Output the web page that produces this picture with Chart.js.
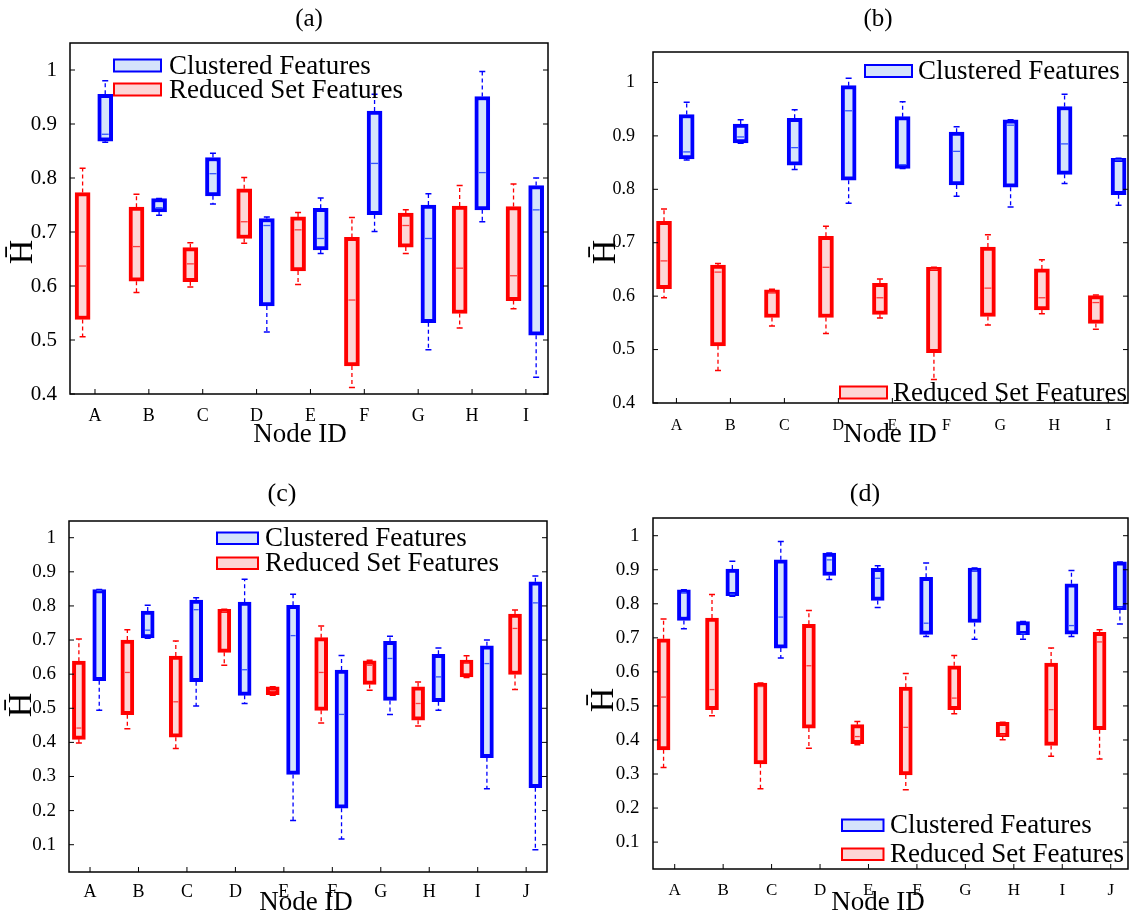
<!DOCTYPE html>
<html>
<head>
<meta charset="utf-8">
<title>Node ID box plots</title>
<script src="https://cdn.jsdelivr.net/npm/chart.js@4.4.1/dist/chart.umd.min.js"></script>
<style>
  html, body { margin: 0; padding: 0; background: #fff; }
  body { position: relative; width: 1129px; height: 915px; overflow: hidden; }
  canvas { position: absolute; }
</style>
</head>
<body>
<canvas id="panelA" width="565" height="457" style="left:0;top:0"></canvas>
<canvas id="panelB" width="564" height="457" style="left:565px;top:0"></canvas>
<canvas id="panelC" width="565" height="458" style="left:0;top:457px"></canvas>
<canvas id="panelD" width="564" height="458" style="left:565px;top:457px"></canvas>
<script>
const seriesNames = ['Clustered Features', 'Reduced Set Features'];
const panelTitles = ['(a)', '(b)', '(c)', '(d)'];
const xTitle = 'Node ID';
const yTitle = 'H\u0304';

const nodes9 = ['A', 'B', 'C', 'D', 'E', 'F', 'G', 'H', 'I'];
const nodes10 = ['A', 'B', 'C', 'D', 'E', 'F', 'G', 'H', 'I', 'J'];
const ticksTop = [0.4, 0.5, 0.6, 0.7, 0.8, 0.9, 1];
const ticksBottom = [0.1, 0.2, 0.3, 0.4, 0.5, 0.6, 0.7, 0.8, 0.9, 1];

// rows: [lower whisker, q1, median, q3, upper whisker]
const clusteredA = [
  [0.866, 0.868, 0.881, 0.955, 0.980], [0.731, 0.737, 0.745, 0.762, 0.762],
  [0.752, 0.767, 0.808, 0.838, 0.846], [0.515, 0.563, 0.712, 0.725, 0.728],
  [0.660, 0.667, 0.688, 0.744, 0.763], [0.701, 0.732, 0.827, 0.924, 0.955],
  [0.482, 0.532, 0.688, 0.750, 0.771], [0.719, 0.741, 0.810, 0.951, 0.997],
  [0.431, 0.509, 0.741, 0.786, 0.800]
];
const reducedA = [
  [0.506, 0.538, 0.637, 0.773, 0.818], [0.588, 0.609, 0.673, 0.746, 0.770],
  [0.598, 0.608, 0.641, 0.671, 0.680], [0.679, 0.688, 0.719, 0.780, 0.801],
  [0.603, 0.628, 0.704, 0.728, 0.736], [0.412, 0.452, 0.574, 0.690, 0.727],
  [0.660, 0.672, 0.712, 0.735, 0.741], [0.522, 0.549, 0.633, 0.748, 0.786],
  [0.558, 0.573, 0.619, 0.747, 0.789]
];
const clusteredB = [
  [0.855, 0.857, 0.870, 0.940, 0.963], [0.886, 0.887, 0.898, 0.922, 0.930],
  [0.837, 0.845, 0.878, 0.933, 0.949], [0.774, 0.817, 0.947, 0.994, 1.008],
  [0.839, 0.839, 0.846, 0.936, 0.964], [0.787, 0.808, 0.871, 0.907, 0.917],
  [0.767, 0.804, 0.920, 0.930, 0.930], [0.811, 0.828, 0.885, 0.955, 0.978],
  [0.770, 0.790, 0.855, 0.858, 0.858]
];
const reducedB = [
  [0.597, 0.614, 0.666, 0.740, 0.763], [0.461, 0.507, 0.645, 0.658, 0.661],
  [0.544, 0.560, 0.607, 0.612, 0.613], [0.530, 0.560, 0.654, 0.712, 0.731],
  [0.559, 0.566, 0.597, 0.624, 0.632], [0.444, 0.494, 0.650, 0.654, 0.654],
  [0.546, 0.562, 0.615, 0.692, 0.715], [0.567, 0.574, 0.597, 0.651, 0.668],
  [0.538, 0.549, 0.588, 0.601, 0.602]
];
const clusteredC = [
  [0.494, 0.581, 0.845, 0.848, 0.848], [0.705, 0.706, 0.729, 0.785, 0.802],
  [0.507, 0.578, 0.789, 0.817, 0.824], [0.514, 0.538, 0.613, 0.811, 0.878],
  [0.171, 0.306, 0.713, 0.802, 0.834], [0.117, 0.207, 0.482, 0.612, 0.655],
  [0.482, 0.523, 0.646, 0.696, 0.711], [0.494, 0.519, 0.592, 0.658, 0.677],
  [0.264, 0.355, 0.631, 0.683, 0.700], [0.085, 0.267, 0.809, 0.871, 0.888]
];
const reducedC = [
  [0.398, 0.409, 0.442, 0.638, 0.703], [0.440, 0.481, 0.605, 0.700, 0.730],
  [0.382, 0.415, 0.519, 0.653, 0.697], [0.626, 0.664, 0.783, 0.790, 0.790],
  [0.538, 0.540, 0.551, 0.563, 0.563], [0.457, 0.494, 0.605, 0.707, 0.741],
  [0.553, 0.570, 0.626, 0.639, 0.641], [0.448, 0.465, 0.514, 0.563, 0.577],
  [0.590, 0.592, 0.632, 0.641, 0.654], [0.555, 0.599, 0.734, 0.776, 0.788]
];
const clusteredD = [
  [0.727, 0.751, 0.833, 0.841, 0.841], [0.822, 0.824, 0.828, 0.902, 0.925],
  [0.641, 0.670, 0.761, 0.929, 0.983], [0.871, 0.883, 0.929, 0.949, 0.949],
  [0.789, 0.810, 0.875, 0.904, 0.912], [0.704, 0.710, 0.743, 0.878, 0.920],
  [0.696, 0.745, 0.898, 0.905, 0.905], [0.696, 0.709, 0.712, 0.748, 0.748],
  [0.704, 0.711, 0.736, 0.859, 0.898], [0.741, 0.783, 0.790, 0.923, 0.923]
];
const reducedD = [
  [0.319, 0.371, 0.526, 0.697, 0.755], [0.471, 0.489, 0.548, 0.758, 0.827],
  [0.257, 0.330, 0.557, 0.567, 0.567], [0.376, 0.435, 0.618, 0.740, 0.780],
  [0.386, 0.389, 0.410, 0.445, 0.454], [0.254, 0.297, 0.437, 0.555, 0.595],
  [0.477, 0.489, 0.523, 0.618, 0.648], [0.401, 0.410, 0.415, 0.452, 0.452],
  [0.352, 0.384, 0.489, 0.626, 0.670], [0.344, 0.430, 0.688, 0.716, 0.724]
];

const FONT = 'Liberation Serif';
const COLORS = [
  { line: '#0000ff', fill: '#d5e3fb', median: '#3355ff' },
  { line: '#ff0000', fill: '#fdd6d6', median: '#ff3b3b' }
];
// box centre offset from the node tick, in node units
const OFFSETS = [0.19, -0.23];

// whiskers, caps and medians on top of the floating bars
const boxPlot = {
  id: 'boxPlot',
  afterDatasetsDraw(chart) {
    const { ctx } = chart;
    const y = chart.scales.y;
    chart.data.datasets.forEach((ds, di) => {
      const meta = chart.getDatasetMeta(di);
      const col = COLORS[di];
      ds.stats.forEach((r, i) => {
        const bar = meta.data[i];
        const cx = bar.x;
        const inner = bar.width / 2 - ds.borderWidth;
        const [lo, q1, med, q3, hi] = r.map(v => y.getPixelForValue(v));
        ctx.save();
        ctx.strokeStyle = col.line;
        ctx.lineWidth = 1.3;
        ctx.setLineDash([4, 3]);
        ctx.beginPath();
        if (hi < q3 - 1) { ctx.moveTo(cx, q3); ctx.lineTo(cx, hi); }
        if (lo > q1 + 1) { ctx.moveTo(cx, q1); ctx.lineTo(cx, lo); }
        ctx.stroke();
        ctx.setLineDash([]);
        ctx.lineWidth = 1.5;
        ctx.beginPath();
        ctx.moveTo(cx - 3, hi); ctx.lineTo(cx + 3, hi);
        ctx.moveTo(cx - 3, lo); ctx.lineTo(cx + 3, lo);
        ctx.stroke();
        ctx.strokeStyle = col.median;
        ctx.lineWidth = 1.3;
        ctx.beginPath();
        ctx.moveTo(cx - inner, med); ctx.lineTo(cx + inner, med);
        ctx.stroke();
        ctx.restore();
      });
    });
  }
};

// frame, inward ticks, titles and the in-plot legend
function decorations(cfg) {
  return {
    id: 'decorations',
    afterDraw(chart) {
      const { ctx, chartArea: a, scales: { x, y } } = chart;
      ctx.save();
      ctx.strokeStyle = '#000';
      ctx.lineWidth = 1.5;
      ctx.strokeRect(a.left, a.top, a.right - a.left, a.bottom - a.top);
      ctx.lineWidth = 1;
      ctx.beginPath();
      cfg.yTicks.forEach(v => {
        const py = y.getPixelForValue(v);
        ctx.moveTo(a.left, py); ctx.lineTo(a.left + 5, py);
        ctx.moveTo(a.right, py); ctx.lineTo(a.right - 5, py);
      });
      cfg.nodes.forEach((n, i) => {
        const px = x.getPixelForValue(i + 1);
        ctx.moveTo(px, a.bottom); ctx.lineTo(px, a.bottom - 5);
      });
      ctx.stroke();

      ctx.fillStyle = '#000';
      ctx.textAlign = 'center';
      ctx.textBaseline = 'alphabetic';
      ctx.font = cfg.titleSize + 'px "' + FONT + '"';
      ctx.fillText(cfg.title, cfg.titlePos[0], cfg.titlePos[1]);
      ctx.font = '27px "' + FONT + '"';
      ctx.fillText(xTitle, cfg.xLabelPos[0], cfg.xLabelPos[1]);

      ctx.save();
      ctx.translate(cfg.yLabelPos[0], cfg.yLabelPos[1]);
      ctx.rotate(-Math.PI / 2);
      ctx.textBaseline = 'middle';
      ctx.font = '34px "' + FONT + '"';
      ctx.fillText(yTitle, 0, 0);
      ctx.restore();

      ctx.textAlign = 'left';
      cfg.legend.forEach(item => {
        const col = COLORS[item.s];
        ctx.fillStyle = col.fill;
        ctx.fillRect(item.x, item.y, cfg.patch[0], cfg.patch[1]);
        ctx.strokeStyle = col.line;
        ctx.lineWidth = 2;
        ctx.strokeRect(item.x, item.y, cfg.patch[0], cfg.patch[1]);
        ctx.fillStyle = '#000';
        ctx.font = '27px "' + FONT + '"';
        ctx.fillText(seriesNames[item.s], item.x + cfg.textGap, item.y + cfg.patch[1] / 2 + 8);
      });
      ctx.restore();
    }
  };
}

function makePanel(id, cfg) {
  const canvas = document.getElementById(id);
  const H = canvas.height;
  const W = canvas.width;
  const series = [cfg.clustered, cfg.reduced];
  const datasets = series.map((rows, s) => ({
    label: seriesNames[s],
    data: rows.map((r, i) => ({ x: i + 1 + OFFSETS[s], y: [r[1], r[3]] })),
    stats: rows,
    backgroundColor: COLORS[s].fill,
    borderColor: COLORS[s].line,
    borderWidth: cfg.boxLine,
    borderSkipped: false,
    grouped: false,
    barThickness: cfg.boxWidth,
    maxBarThickness: cfg.boxWidth
  }));

  new Chart(canvas, {
    type: 'bar',
    data: { datasets },
    options: {
      responsive: false,
      animation: false,
      events: [],
      layout: { padding: { left: 0, top: cfg.area.top, right: W - cfg.area.right, bottom: 0 } },
      plugins: {
        legend: { display: false },
        tooltip: { enabled: false },
        title: { display: false }
      },
      scales: {
        x: {
          type: 'linear',
          min: cfg.xRange[0],
          max: cfg.xRange[1],
          offset: false,
          grid: { display: false },
          border: { display: false },
          afterBuildTicks: sc => { sc.ticks = cfg.nodes.map((n, i) => ({ value: i + 1 })); },
          afterFit: sc => { sc.height = H - cfg.area.bottom; },
          ticks: {
            autoSkip: false,
            maxRotation: 0,
            minRotation: 0,
            padding: cfg.xTickPad,
            color: '#000',
            font: { family: FONT, size: cfg.xTickSize },
            callback: v => cfg.nodes[Math.round(v) - 1]
          }
        },
        y: {
          type: 'linear',
          min: cfg.yRange[0],
          max: cfg.yRange[1],
          grid: { display: false },
          border: { display: false },
          afterBuildTicks: sc => { sc.ticks = cfg.yTicks.map(v => ({ value: v })); },
          afterFit: sc => { sc.width = cfg.area.left; },
          ticks: {
            autoSkip: false,
            padding: cfg.yTickPad,
            color: '#000',
            font: { family: FONT, size: cfg.yTickSize },
            callback: v => String(v)
          }
        }
      }
    },
    plugins: [boxPlot, decorations(cfg)]
  });
}

makePanel('panelA', {
  clustered: clusteredA, reduced: reducedA, nodes: nodes9, yTicks: ticksTop,
  area: { left: 70, top: 43, right: 548, bottom: 394 },
  xRange: [0.536, 9.41], yRange: [0.4, 1.05],
  yTickSize: 21, yTickPad: 5, xTickSize: 18, xTickPad: 3,
  boxWidth: 15, boxLine: 4,
  title: panelTitles[0], titleSize: 25, titlePos: [309, 26],
  xLabelPos: [300, 442], yLabelPos: [23, 252],
  patch: [47, 12], textGap: 55,
  legend: [{ s: 0, x: 114, y: 59.5 }, { s: 1, x: 114, y: 83.5 }]
});

makePanel('panelB', {
  clustered: clusteredB, reduced: reducedB, nodes: nodes9, yTicks: ticksTop,
  area: { left: 88, top: 52, right: 563, bottom: 403 },
  xRange: [0.566, 9.365], yRange: [0.4, 1.057],
  yTickSize: 18, yTickPad: 10, xTickSize: 16, xTickPad: 5,
  boxWidth: 15, boxLine: 4,
  title: panelTitles[1], titleSize: 25, titlePos: [313, 26],
  xLabelPos: [325, 442], yLabelPos: [41, 252],
  patch: [47, 12], textGap: 53,
  legend: [{ s: 0, x: 300, y: 65 }, { s: 1, x: 275, y: 386.5 }]
});

makePanel('panelC', {
  clustered: clusteredC, reduced: reducedC, nodes: nodes10, yTicks: ticksBottom,
  area: { left: 69, top: 64, right: 547, bottom: 415 },
  xRange: [0.566, 10.43], yRange: [0.02, 1.049],
  yTickSize: 19, yTickPad: 5, xTickSize: 18, xTickPad: 1,
  boxWidth: 13, boxLine: 4,
  title: panelTitles[2], titleSize: 26, titlePos: [282, 44],
  xLabelPos: [306, 453], yLabelPos: [22, 248],
  patch: [41, 11.5], textGap: 48,
  legend: [{ s: 0, x: 217, y: 75.5 }, { s: 1, x: 217, y: 100.5 }]
});

makePanel('panelD', {
  clustered: clusteredD, reduced: reducedD, nodes: nodes10, yTicks: ticksBottom,
  area: { left: 88, top: 61, right: 563, bottom: 412 },
  xRange: [0.552, 10.357], yRange: [0.021, 1.052],
  yTickSize: 19, yTickPad: 5.5, xTickSize: 17, xTickPad: 3,
  boxWidth: 13, boxLine: 4,
  title: panelTitles[3], titleSize: 26, titlePos: [300, 44],
  xLabelPos: [313, 453], yLabelPos: [39, 243],
  patch: [41.5, 11.5], textGap: 48,
  legend: [{ s: 0, x: 277, y: 362.5 }, { s: 1, x: 277, y: 391.5 }]
});
</script>
</body>
</html>
